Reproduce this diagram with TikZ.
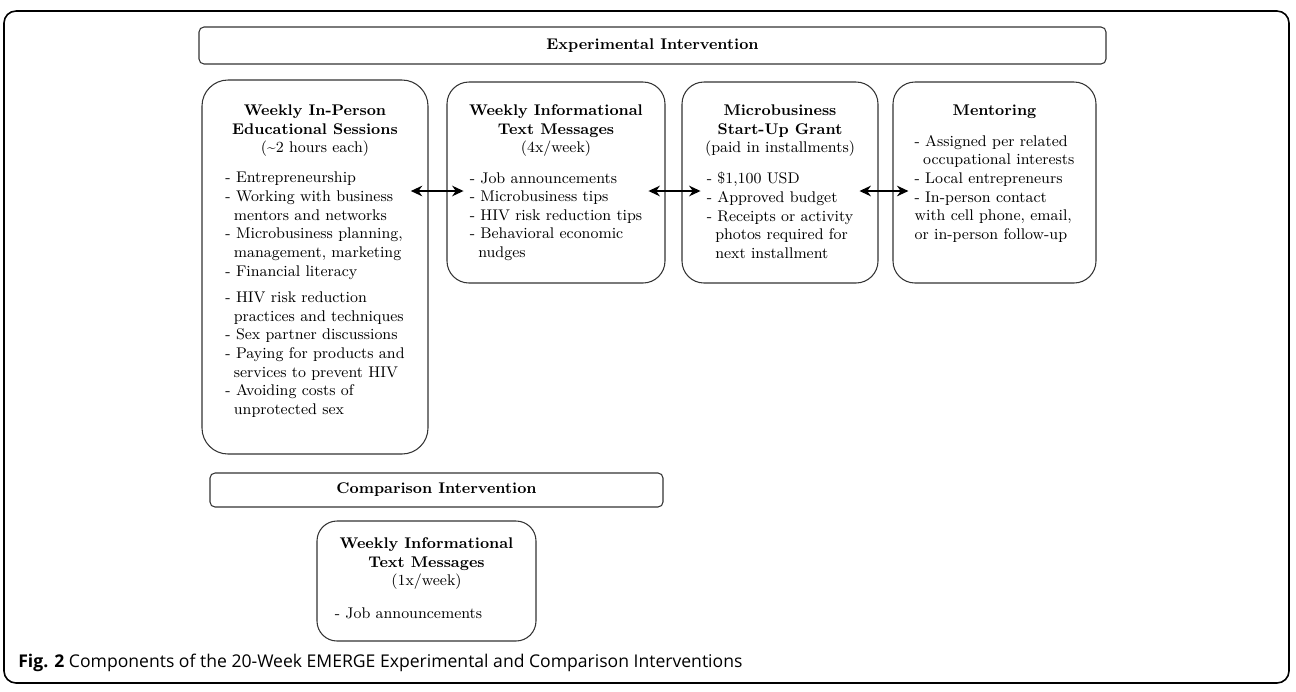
\documentclass[tikz,border=0pt]{standalone}
\usepackage{fontspec}
\newfontfamily\capfont{Open Sans}
\usetikzlibrary{arrows.meta,positioning}
\newcommand\px{0.02cm}
\newcommand\boxfont{\fontsize{8.8}{10.6}\selectfont}
\newcommand\compbox[6]{
    \node[panel, minimum width=#4*\px, minimum height=#5*\px,
    rounded corners=#6*\px] (#1) at (#2,#3) {};
}
\tikzset{
    panel/.style={draw=black!80, line width=0.6pt, inner sep=0pt},
    head/.style={font=\boxfont, align=center, inner sep=0pt},
    items/.style={font=\boxfont, align=left},
    bar/.style={font=\boxfont\bfseries},
    pair/.style={{Stealth[length=6.5pt,width=6pt]}-{Stealth[length=6.5pt,width=6pt]}, line width=1.3pt},
}

\begin{document}
\begin{tikzpicture}[x=\px, y=-\px]
    \useasboundingbox (0,0) rectangle (1296,691);
    \draw[line width=0.9pt, rounded corners=0.24cm] (4,11) rectangle (1289,683);

    % experimental arm
    \compbox{expbar}{652.5}{45.5}{907}{37}{5}
    \node[bar] (exptitle) at (expbar) {Experimental Intervention};

    \compbox{edu}{315}{267}{226}{374}{26}
    \compbox{txt}{556}{182.5}{218}{201}{22}
    \compbox{grant}{780}{182.5}{196}{201}{22}
    \compbox{mentor}{994.5}{182.5}{203}{201}{22}

    \node[head, below=0.5cm of edu.north] (eduhead)
        {\textbf{Weekly In-Person}\\\textbf{Educational Sessions}\\(\textasciitilde2 hours each)};
    \node[items, below=0.18cm of eduhead] (eduitems)
        {- Entrepreneurship\\
         - Working with business\\
         \hspace*{0.55em}mentors and networks\\
         - Microbusiness planning,\\
         \hspace*{0.55em}management, marketing\\
         - Financial literacy\\[4.5pt]
         - HIV risk reduction\\
         \hspace*{0.55em}practices and techniques\\
         - Sex partner discussions\\
         - Paying for products and\\
         \hspace*{0.55em}services to prevent HIV\\
         - Avoiding costs of\\
         \hspace*{0.55em}unprotected sex};

    \node[head, below=0.46cm of txt.north] (txthead)
        {\textbf{Weekly Informational}\\\textbf{Text Messages}\\(4x/week)};
    \node[items, below=0.18cm of txthead] (txtitems)
        {- Job announcements\\
         - Microbusiness tips\\
         - HIV risk reduction tips\\
         - Behavioral economic\\
         \hspace*{0.55em}nudges};

    \node[head, below=0.46cm of grant.north] (granthead)
        {\textbf{Microbusiness}\\\textbf{Start-Up Grant}\\(paid in installments)};
    \node[items, below=0.18cm of granthead] (grantitems)
        {- \$1,100 USD\\
         - Approved budget\\
         - Receipts or activity\\
         \hspace*{0.55em}photos required for\\
         \hspace*{0.55em}next installment};

    \node[head, below=0.46cm of mentor.north] (mentorhead) {\textbf{Mentoring}};
    \node[items, below=0.2cm of mentorhead] (mentoritems)
        {- Assigned per related\\
         \hspace*{0.55em}occupational interests\\
         - Local entrepreneurs\\
         - In-person contact\\
         with cell phone, email,\\
         or in-person follow-up};

    \coordinate (lane) at (0,191);
    \draw[pair] (eduitems.east |- lane) -- (txtitems.west |- lane);
    \draw[pair] (txtitems.east |- lane) -- (grantitems.west |- lane);
    \draw[pair] (grantitems.east |- lane) -- (mentoritems.west |- lane);

    % comparison arm
    \compbox{cmpbar}{436.5}{490}{453}{34}{5}
    \node[bar] (cmptitle) at (cmpbar) {Comparison Intervention};

    \compbox{sms}{426.5}{581}{219}{120}{20}
    \node[head, below=0.34cm of sms.north] (smshead)
        {\textbf{Weekly Informational}\\\textbf{Text Messages}\\(1x/week)};
    \node[items, below=0.22cm of smshead, xshift=-0.36cm] (smsitems) {- Job announcements};

    \node[anchor=base west, inner sep=0pt, font=\capfont\fontsize{10}{12}\selectfont] (caption)
        at (18,667) {\textbf{Fig. 2} Components of the 20-Week EMERGE Experimental and Comparison Interventions};
\end{tikzpicture}
\end{document}
